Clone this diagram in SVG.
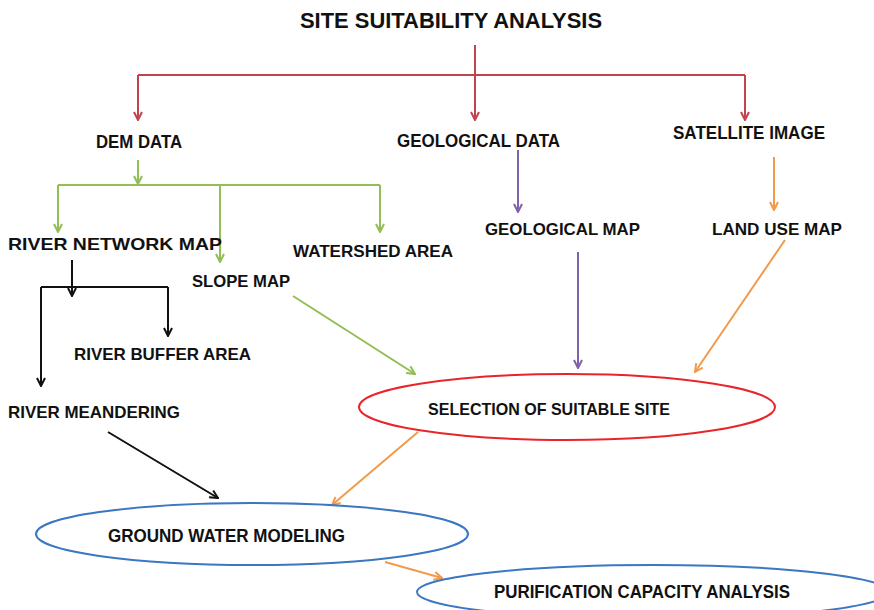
<svg xmlns="http://www.w3.org/2000/svg" width="874" height="610" viewBox="0 0 874 610">
<style>
text{font-family:"Liberation Sans",Arial,sans-serif;font-weight:bold;fill:#111;font-size:16.5px}
.t{font-size:22px}
.n{font-size:18px}
.c{fill:none;stroke-width:2}
.r{stroke:#c0444e}.g{stroke:#93bd55}.p{stroke:#7f62a8}.o{stroke:#f29a4a}.k{stroke:#111}
</style>
<defs>
<marker id="ar" viewBox="0 0 10 10" refX="9" refY="5" markerWidth="10" markerHeight="10" markerUnits="userSpaceOnUse" orient="auto"><path d="M1,1 L9,5 L1,9" fill="none" stroke="#c0444e" stroke-width="2"/></marker>
<marker id="ag" viewBox="0 0 10 10" refX="9" refY="5" markerWidth="10" markerHeight="10" markerUnits="userSpaceOnUse" orient="auto"><path d="M1,1 L9,5 L1,9" fill="none" stroke="#93bd55" stroke-width="2"/></marker>
<marker id="ap" viewBox="0 0 10 10" refX="9" refY="5" markerWidth="10" markerHeight="10" markerUnits="userSpaceOnUse" orient="auto"><path d="M1,1 L9,5 L1,9" fill="none" stroke="#7f62a8" stroke-width="2"/></marker>
<marker id="ao" viewBox="0 0 10 10" refX="9" refY="5" markerWidth="10" markerHeight="10" markerUnits="userSpaceOnUse" orient="auto"><path d="M1,1 L9,5 L1,9" fill="none" stroke="#f29a4a" stroke-width="2"/></marker>
<marker id="ak" viewBox="0 0 10 10" refX="9" refY="5" markerWidth="10" markerHeight="10" markerUnits="userSpaceOnUse" orient="auto"><path d="M1,1 L9,5 L1,9" fill="none" stroke="#111" stroke-width="2"/></marker>
</defs>
<rect width="874" height="610" fill="#fff"/>
<g id="connectors">
<path class="c r" d="M138,75 H745"/>
<path class="c r" d="M475,45 V120" marker-end="url(#ar)"/>
<path class="c r" d="M138,75 V120" marker-end="url(#ar)"/>
<path class="c r" d="M745,75 V120" marker-end="url(#ar)"/>
<path class="c g" d="M138,160 V184" marker-end="url(#ag)"/>
<path class="c g" d="M58,185 H380"/>
<path class="c g" d="M58,185 V232" marker-end="url(#ag)"/>
<path class="c g" d="M220,185 V262" marker-end="url(#ag)"/>
<path class="c g" d="M380,185 V232" marker-end="url(#ag)"/>
<path class="c p" d="M518,150 V212" marker-end="url(#ap)"/>
<path class="c o" d="M774,157 V210" marker-end="url(#ao)"/>
<path class="c p" d="M578,252 V368" marker-end="url(#ap)"/>
<path class="c o" d="M785,240 L695,372" marker-end="url(#ao)"/>
<path class="c g" d="M293,296 L415,374" marker-end="url(#ag)"/>
<path class="c k" d="M72,260 V296" marker-end="url(#ak)"/>
<path class="c k" d="M41,287 H168"/>
<path class="c k" d="M41,287 V386" marker-end="url(#ak)"/>
<path class="c k" d="M168,287 V336" marker-end="url(#ak)"/>
<path class="c k" d="M108,432 L218,498" marker-end="url(#ak)"/>
<path class="c o" d="M418,432 L332,505" marker-end="url(#ao)"/>
<path class="c o" d="M385,562 L442,578" marker-end="url(#ao)"/>
</g>
<g id="title"><text class="t" x="300" y="28" textLength="302" lengthAdjust="spacingAndGlyphs">SITE SUITABILITY ANALYSIS</text></g>
<g id="dem"><text class="n" x="96" y="148" textLength="86" lengthAdjust="spacingAndGlyphs">DEM DATA</text></g>
<g id="geodata"><text class="n" x="397" y="147" textLength="163" lengthAdjust="spacingAndGlyphs">GEOLOGICAL DATA</text></g>
<g id="sat"><text class="n" x="673" y="139" textLength="152" lengthAdjust="spacingAndGlyphs">SATELLITE IMAGE</text></g>
<g id="rnm"><text x="8" y="250" textLength="214" lengthAdjust="spacingAndGlyphs">RIVER NETWORK MAP</text></g>
<g id="slope"><text x="192" y="287" textLength="98" lengthAdjust="spacingAndGlyphs">SLOPE MAP</text></g>
<g id="watershed"><text x="293" y="257" textLength="160" lengthAdjust="spacingAndGlyphs">WATERSHED AREA</text></g>
<g id="geomap"><text x="485" y="235" textLength="155" lengthAdjust="spacingAndGlyphs">GEOLOGICAL MAP</text></g>
<g id="landuse"><text x="712" y="235" textLength="130" lengthAdjust="spacingAndGlyphs">LAND USE MAP</text></g>
<g id="buffer"><text x="74" y="360" textLength="177" lengthAdjust="spacingAndGlyphs">RIVER BUFFER AREA</text></g>
<g id="meander"><text x="8" y="418" textLength="172" lengthAdjust="spacingAndGlyphs">RIVER MEANDERING</text></g>
<g id="selection"><ellipse cx="567" cy="407" rx="208" ry="33" fill="none" stroke="#e8262a" stroke-width="2"/><text x="428" y="415" textLength="242" lengthAdjust="spacingAndGlyphs">SELECTION OF SUITABLE SITE</text></g>
<g id="gwm"><ellipse cx="252" cy="534" rx="216" ry="31" fill="none" stroke="#3b77c2" stroke-width="2"/><text class="n" x="108" y="542" textLength="237" lengthAdjust="spacingAndGlyphs">GROUND WATER MODELING</text></g>
<g id="purif"><ellipse cx="653" cy="592" rx="236" ry="27" fill="none" stroke="#3b77c2" stroke-width="2"/><text class="n" x="494" y="598" textLength="296" lengthAdjust="spacingAndGlyphs">PURIFICATION CAPACITY ANALYSIS</text></g>
</svg>
